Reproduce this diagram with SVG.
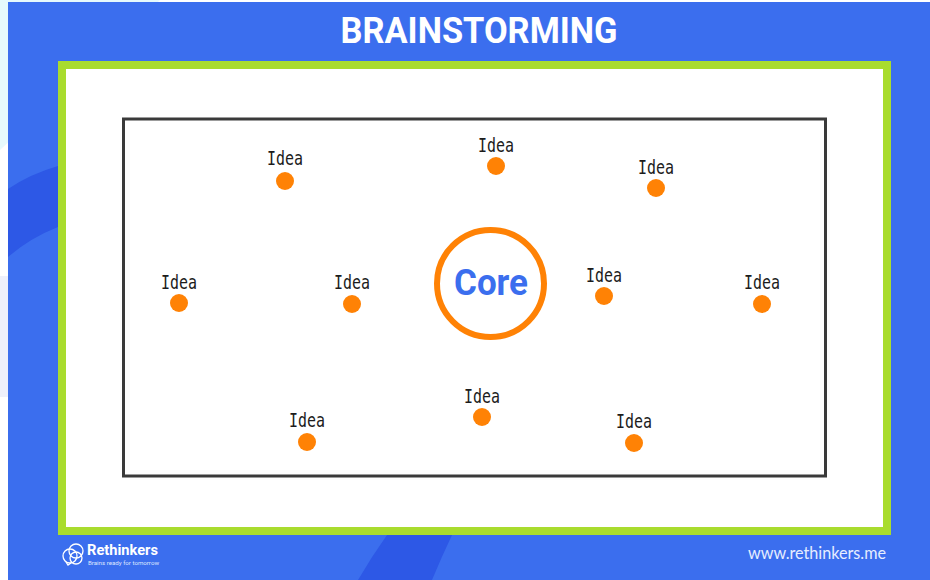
<svg xmlns="http://www.w3.org/2000/svg" width="930" height="580" viewBox="0 0 930 580">
<style>
.idea{font-family:"DejaVu Sans Mono","Liberation Mono",monospace;font-size:20px;fill:#1c1c1c;text-anchor:middle}
.dot{fill:#ff8205}
.t{font-family:Roboto,"Liberation Sans",sans-serif;font-weight:700}
</style>
<rect width="930" height="580" fill="#ffffff"/>
<path d="M0 0H160L0 150Z" fill="#e6f9fc"/>
<rect x="0" y="276" width="8" height="121" fill="#eef0fb"/>
<rect x="8" y="2" width="922" height="578" fill="#3b6eee"/>
<path d="M8 189Q30 174 58 166V227Q30 238 8 257Z" fill="#2d58e6"/>
<path d="M387 535H452Q442 556 432 580H358Q372 556 387 535Z" fill="#2d58e6"/>
<text class="t" x="479" y="43" font-size="36" fill="#fff" text-anchor="middle" textLength="277" lengthAdjust="spacingAndGlyphs">BRAINSTORMING</text>
<g id="frame">
<rect x="62" y="65" width="825" height="466" fill="#fff" stroke="#a9dc2e" stroke-width="8"/>
<rect x="123.500" y="119" width="702" height="357" fill="#fff" stroke="#3a3a3a" stroke-width="3"/>
</g>
<g id="core">
<circle cx="490.500" cy="283.500" r="53.500" fill="#fff" stroke="#ff8205" stroke-width="6"/>
<text class="t" x="491" y="295" font-size="36" fill="#3b6eee" text-anchor="middle" textLength="74" lengthAdjust="spacingAndGlyphs">Core</text>
</g>
<g id="idea-1"><text class="idea" x="285" y="165" textLength="36" lengthAdjust="spacingAndGlyphs">Idea</text><circle class="dot" cx="285" cy="181" r="9"/></g>
<g id="idea-2"><text class="idea" x="496" y="152" textLength="36" lengthAdjust="spacingAndGlyphs">Idea</text><circle class="dot" cx="496" cy="166" r="9"/></g>
<g id="idea-3"><text class="idea" x="656" y="174" textLength="36" lengthAdjust="spacingAndGlyphs">Idea</text><circle class="dot" cx="656" cy="188" r="9"/></g>
<g id="idea-4"><text class="idea" x="179" y="289" textLength="36" lengthAdjust="spacingAndGlyphs">Idea</text><circle class="dot" cx="179" cy="303" r="9"/></g>
<g id="idea-5"><text class="idea" x="352" y="289" textLength="36" lengthAdjust="spacingAndGlyphs">Idea</text><circle class="dot" cx="352" cy="304" r="9"/></g>
<g id="idea-6"><text class="idea" x="604" y="282" textLength="36" lengthAdjust="spacingAndGlyphs">Idea</text><circle class="dot" cx="604" cy="296" r="9"/></g>
<g id="idea-7"><text class="idea" x="762" y="289" textLength="36" lengthAdjust="spacingAndGlyphs">Idea</text><circle class="dot" cx="762" cy="304" r="9"/></g>
<g id="idea-8"><text class="idea" x="307" y="427" textLength="36" lengthAdjust="spacingAndGlyphs">Idea</text><circle class="dot" cx="307" cy="442" r="9"/></g>
<g id="idea-9"><text class="idea" x="482" y="403" textLength="36" lengthAdjust="spacingAndGlyphs">Idea</text><circle class="dot" cx="482" cy="417" r="9"/></g>
<g id="idea-10"><text class="idea" x="634" y="428" textLength="36" lengthAdjust="spacingAndGlyphs">Idea</text><circle class="dot" cx="634" cy="443" r="9"/></g>
<g id="logo">
<g fill="none" stroke="#fff" stroke-width="1.300">
<circle cx="76" cy="551" r="7"/><circle cx="70" cy="556" r="7"/><circle cx="76" cy="558" r="6"/>
<path d="M66 562L68 565L71 563"/>
</g>
<text class="t" x="87" y="555" font-size="14" fill="#fff" textLength="71" lengthAdjust="spacingAndGlyphs">Rethinkers</text>
<text x="88" y="564.500" font-family="Roboto,sans-serif" font-size="6" fill="#dfe7ff" textLength="71" lengthAdjust="spacingAndGlyphs">Brains ready for tomorrow</text>
</g>
<text x="748" y="559" font-family="Lato,sans-serif" font-size="18" fill="#e6edff" textLength="138" lengthAdjust="spacingAndGlyphs">www.rethinkers.me</text>
</svg>
